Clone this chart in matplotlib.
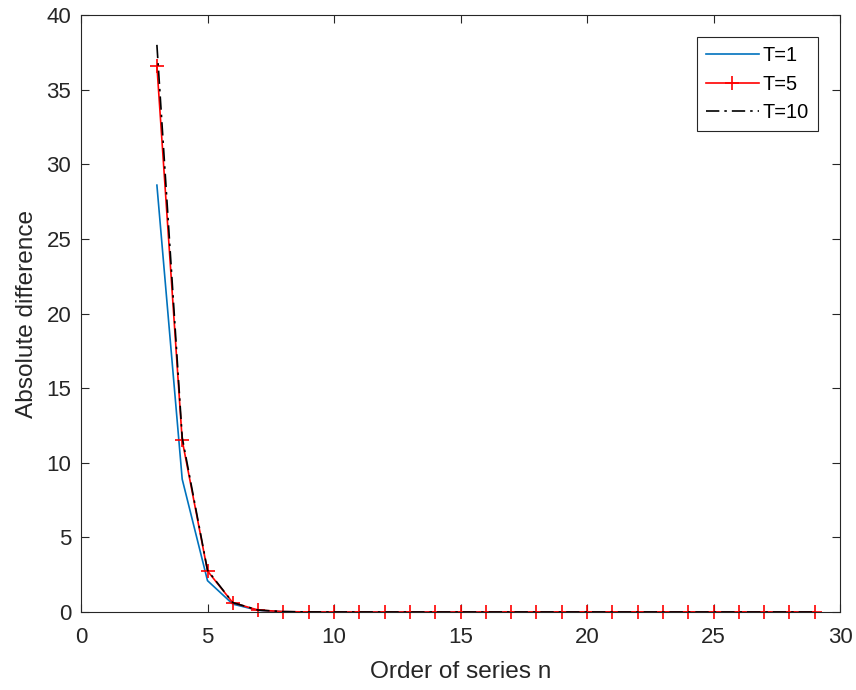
import matplotlib
matplotlib.use("Agg")
import matplotlib.pyplot as plt

n = list(range(3, 30))
t1 = [28.6, 8.9, 2.1, 0.53, 0.11, 0.02, 0.003, 0.0005, 0.0001] + [0.0] * 18
t5 = [36.6, 11.5, 2.75, 0.62, 0.13, 0.025, 0.004, 0.0006, 0.0001] + [0.0] * 18
t10 = [38.0, 11.7, 2.8, 0.63, 0.13, 0.026, 0.004, 0.0006, 0.0001] + [0.0] * 18

plt.rcParams['font.family'] = ['Liberation Sans', 'DejaVu Sans']
gray = (0.15, 0.15, 0.15)
fig = plt.figure(figsize=(8.56, 6.9), dpi=100)
ax = fig.add_axes([81/856, 78/690, (840-81)/856, (612-15)/690])

ax.plot(n, t1, color=(0, 0.447, 0.741), lw=1.2, label='T=1', clip_on=False)
ax.plot(n, t5, color='red', lw=1.2, marker='+', markersize=10, markeredgewidth=1.2,
        label='T=5', clip_on=False)
ax.plot(n, t10, color='black', lw=1.2, linestyle=(0, (8, 3, 1.5, 3)), label='T=10', clip_on=False)

ax.set_xlim(0, 30)
ax.set_ylim(0, 40)
ax.set_xticks(range(0, 31, 5))
ax.set_yticks(range(0, 41, 5))
ax.tick_params(direction='in', top=True, right=True, labelsize=16, colors=gray,
               length=5.5, width=0.8)
ax.tick_params(axis='x', pad=11)
ax.tick_params(axis='y', pad=7)
for s in ax.spines.values():
    s.set_color(gray)
    s.set_linewidth(0.8)
ax.set_xlabel('Order of series n', fontsize=17.6, color=gray, labelpad=9)
ax.set_ylabel('Absolute difference', fontsize=17.6, color=gray, labelpad=6)
leg = ax.legend(loc='upper right', fontsize=14.4, fancybox=False, framealpha=1,
                edgecolor=gray, handlelength=2.65, handletextpad=0.2,
                labelspacing=0.475, borderpad=0.45, borderaxespad=1.1)
leg.get_frame().set_linewidth(0.8)
for t in leg.get_texts():
    t.set_color('black')
fig.savefig('out.png', dpi=100)
